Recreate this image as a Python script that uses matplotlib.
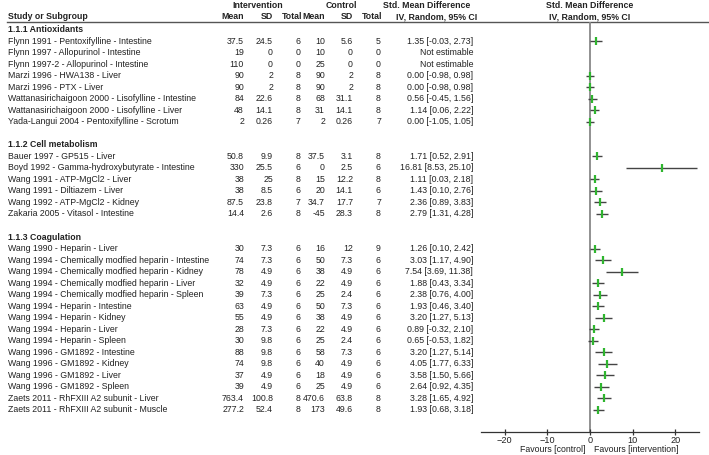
import matplotlib
matplotlib.use("Agg")
import matplotlib.pyplot as plt

plt.rcParams['font.family'] = ['Liberation Sans', 'DejaVu Sans']

subgroups = ["1.1.1 Antioxidants", "1.1.2 Cell metabolism", "1.1.3 Coagulation"]

studies = [
    ["Flynn 1991 - Pentoxifylline - Intestine", "Flynn 1997 - Allopurinol - Intestine",
     "Flynn 1997-2 - Allopurinol - Intestine", "Marzi 1996 - HWA138 - Liver", "Marzi 1996 - PTX - Liver",
     "Wattanasirichaigoon 2000 - Lisofylline - Intestine", "Wattanasirichaigoon 2000 - Lisofylline - Liver",
     "Yada-Langui 2004 - Pentoxifylline - Scrotum"],
    ["Bauer 1997 - GP515 - Liver", "Boyd 1992 - Gamma-hydroxybutyrate - Intestine",
     "Wang 1991 - ATP-MgCl2 - Liver", "Wang 1991 - Diltiazem - Liver", "Wang 1992 - ATP-MgCl2 - Kidney",
     "Zakaria 2005 - Vitasol - Intestine"],
    ["Wang 1990 - Heparin - Liver", "Wang 1994 - Chemically modfied heparin - Intestine",
     "Wang 1994 - Chemically modfied heparin - Kidney", "Wang 1994 - Chemically modfied heparin - Liver",
     "Wang 1994 - Chemically modfied heparin - Spleen", "Wang 1994 - Heparin - Intestine",
     "Wang 1994 - Heparin - Kidney", "Wang 1994 - Heparin - Liver", "Wang 1994 - Heparin - Spleen",
     "Wang 1996 - GM1892 - Intestine", "Wang 1996 - GM1892 - Kidney", "Wang 1996 - GM1892 - Liver",
     "Wang 1996 - GM1892 - Spleen", "Zaets 2011 - RhFXIII A2 subunit - Liver",
     "Zaets 2011 - RhFXIII A2 subunit - Muscle"],
]

int_mean = [["37.5", "19", "110", "90", "90", "84", "48", "2"],
            ["50.8", "330", "38", "38", "87.5", "14.4"],
            ["30", "74", "78", "32", "39", "63", "55", "28", "30", "88", "74", "37", "39", "763.4", "277.2"]]
int_sd = [["24.5", "0", "0", "2", "2", "22.6", "14.1", "0.26"],
          ["9.9", "25.5", "25", "8.5", "23.8", "2.6"],
          ["7.3", "7.3", "4.9", "4.9", "7.3", "4.9", "4.9", "7.3", "9.8", "9.8", "9.8", "4.9", "4.9", "100.8", "52.4"]]
int_n = [["6", "0", "0", "8", "8", "8", "8", "7"],
         ["8", "6", "8", "6", "7", "8"],
         ["6", "6", "6", "6", "6", "6", "6", "6", "6", "6", "6", "6", "6", "8", "8"]]
ctl_mean = [["10", "10", "25", "90", "90", "68", "31", "2"],
            ["37.5", "0", "15", "20", "34.7", "-45"],
            ["16", "50", "38", "22", "25", "50", "38", "22", "25", "58", "40", "18", "25", "470.6", "173"]]
ctl_sd = [["5.6", "0", "0", "2", "2", "31.1", "14.1", "0.26"],
          ["3.1", "2.5", "12.2", "14.1", "17.7", "28.3"],
          ["12", "7.3", "4.9", "4.9", "2.4", "7.3", "4.9", "4.9", "2.4", "7.3", "4.9", "4.9", "4.9", "63.8", "49.6"]]
ctl_n = [["5", "0", "0", "8", "8", "8", "8", "7"],
         ["8", "6", "8", "6", "7", "8"],
         ["9", "6", "6", "6", "6", "6", "6", "6", "6", "6", "6", "6", "6", "8", "8"]]
smd = [[1.35, None, None, 0.00, 0.00, 0.56, 1.14, 0.00],
       [1.71, 16.81, 1.11, 1.43, 2.36, 2.79],
       [1.26, 3.03, 7.54, 1.88, 2.38, 1.93, 3.20, 0.89, 0.65, 3.20, 4.05, 3.58, 2.64, 3.28, 1.93]]
ci_lo = [[-0.03, None, None, -0.98, -0.98, -0.45, 0.06, -1.05],
         [0.52, 8.53, 0.03, 0.10, 0.89, 1.31],
         [0.10, 1.17, 3.69, 0.43, 0.76, 0.46, 1.27, -0.32, -0.53, 1.27, 1.77, 1.50, 0.92, 1.65, 0.68]]
ci_hi = [[2.73, None, None, 0.98, 0.98, 1.56, 2.22, 1.05],
         [2.91, 25.10, 2.18, 2.76, 3.83, 4.28],
         [2.42, 4.90, 11.38, 3.34, 4.00, 3.40, 5.13, 2.10, 1.82, 5.14, 6.33, 5.66, 4.35, 4.92, 3.18]]
x_ticks = [-20, -10, 0, 10, 20]

W, H = 709, 455
fig = plt.figure(figsize=(W / 100, H / 100), dpi=100)

# row geometry (pixel): row i at y = Y0 + DY*i
Y0, DY = 29.5, 11.53
def row_of(ypix):
    return (ypix - Y0) / DY

tax = fig.add_axes([0, 0, 1, 1])
tax.set_xlim(0, W)
tax.set_ylim(row_of(H), row_of(0))
tax.axis('off')

ax_left, ax_right = 481, 699
ax_top, ax_bot = 22, 432
fax = fig.add_axes([ax_left / W, (H - ax_bot) / H, (ax_right - ax_left) / W, (ax_bot - ax_top) / H])
fax.set_xlim(-25.6, 25.6)
fax.set_ylim(row_of(ax_bot), row_of(ax_top))
fax.patch.set_alpha(0)
for s in ['top', 'left', 'right']:
    fax.spines[s].set_visible(False)
fax.spines['bottom'].set_linewidth(0.9)
fax.spines['bottom'].set_color('#333333')
fax.set_yticks([])
fax.set_xticks(x_ticks)
fax.tick_params(axis='x', direction='inout', length=4.5, width=0.9, colors='#333333',
                labelsize=6.6, pad=0.3, labelcolor='#222222')
fax.axvline(0, color='#888888', lw=1.3, zorder=1)

FS = 6.3
TC = '#222222'
hdr_kw = dict(fontsize=FS, color=TC, fontweight='bold', va='center')

# header
r1, r2 = row_of(5), row_of(16.5)
tax.text(258, r1, "Intervention", ha='center', **hdr_kw)
tax.text(341, r1, "Control", ha='center', **hdr_kw)
tax.text(427, r1, "Std. Mean Difference", ha='center', **hdr_kw)
tax.text(590, r1, "Std. Mean Difference", ha='center', **hdr_kw)
tax.text(8, r2, "Study or Subgroup", ha='left', **hdr_kw)
for xr, lab in [(244, "Mean"), (273, "SD"), (302, "Total"), (325, "Mean"), (353, "SD"), (382, "Total")]:
    tax.text(xr, r2, lab, ha='right', **hdr_kw)
tax.text(437, r2, "IV, Random, 95% CI", ha='center', **hdr_kw)
tax.text(590, r2, "IV, Random, 95% CI", ha='center', **hdr_kw)
tax.plot([7, W], [row_of(ax_top), row_of(ax_top)], color='#555555', lw=1.0)

cols_x = [244, 273, 300, 325, 353, 381]
row = 0
for g, name in enumerate(subgroups):
    tax.text(8, row, name, ha='left', **hdr_kw)
    row += 1
    for k, st in enumerate(studies[g]):
        tax.text(8, row, st, ha='left', va='center', fontsize=FS, color=TC)
        vals = [int_mean[g][k], int_sd[g][k], int_n[g][k], ctl_mean[g][k], ctl_sd[g][k], ctl_n[g][k]]
        for xr, v in zip(cols_x, vals):
            tax.text(xr, row, v, ha='right', va='center', fontsize=FS, color=TC)
        if smd[g][k] is None:
            tax.text(473, row, "Not estimable", ha='right', va='center', fontsize=FS, color=TC)
        else:
            tax.text(473, row, f"{smd[g][k]:.2f} [{ci_lo[g][k]:.2f}, {ci_hi[g][k]:.2f}]",
                     ha='right', va='center', fontsize=FS, color=TC)
            fax.plot([ci_lo[g][k], ci_hi[g][k]], [row, row], color='#444444', lw=1.0,
                     solid_capstyle='butt', zorder=2)
            fax.plot([smd[g][k]], [row], marker='|', ms=5.5, mew=1.6, color='#2fb52f', zorder=3,
                     linestyle='none')
        row += 1
    row += 1

rf = row_of(449.5)
tax.text(585, rf, "Favours [control]", ha='right', va='center', fontsize=FS, color=TC)
tax.text(594, rf, "Favours [intervention]", ha='left', va='center', fontsize=FS, color=TC)

fig.savefig("out.png", dpi=100)
